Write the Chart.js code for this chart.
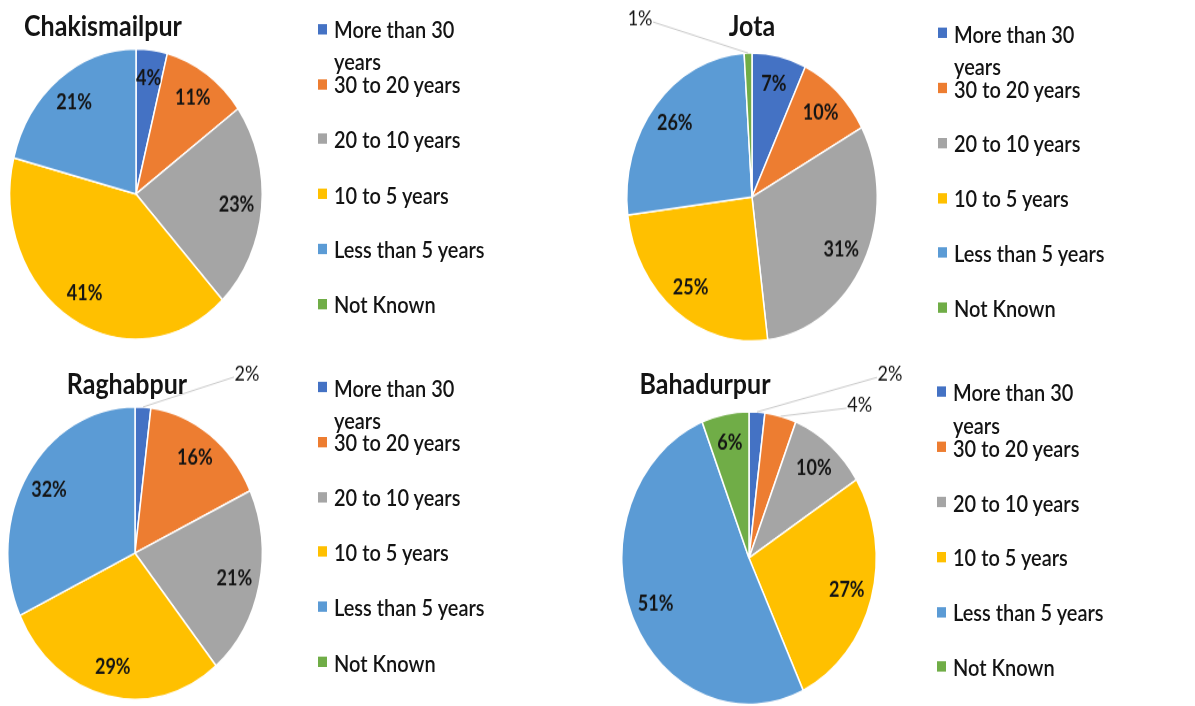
<!DOCTYPE html>
<html>
<head>
<meta charset="utf-8">
<script src="https://cdn.jsdelivr.net/npm/chart.js@4.4.1/dist/chart.umd.min.js"></script>
<style>
  html, body { margin: 0; padding: 0; background: #fff; }
  #frame { position: relative; width: 1195px; height: 706px; overflow: hidden; }
  #page {
    position: absolute; left: 0; top: 0; width: 1195px; height: 614px;
    transform: scaleY(1.15); transform-origin: 0 0;
    font-family: Lato, "Open Sans", sans-serif; color: #141414;
  }
  canvas { position: absolute; }
  .title { position: absolute; font-weight: bold; font-size: 25px; line-height: 30px; transform: translate(-50%, -50%); white-space: nowrap; }
  .row { position: absolute; font-size: 20px; font-weight: 600; line-height: 28px; }
  .row .box { position: absolute; left: 0; top: 9.5px; width: 9px; height: 9px; }
  .row .txt { position: absolute; left: 16px; top: 0; width: 170px; }
</style>
</head>
<body>
<div id="frame"><div id="page"></div></div>
<script>
"use strict";

// categories (legend order, clockwise from 12 o'clock)
const categories = ['More than 30 years', '30 to 20 years', '20 to 10 years', '10 to 5 years', 'Less than 5 years', 'Not Known'];
const colors = ['#4472C4', '#ED7D31', '#A5A5A5', '#FFC000', '#5B9BD5', '#70AD47'];

// percentages per village
const chakismailpur = [4, 11, 23, 41, 21, 0];
const jota = [7, 10, 31, 25, 26, 1];
const raghabpur = [2, 16, 21, 29, 32, 0];
const bahadurpur = [2, 4, 10, 27, 51, 6];

// layout for each panel (unscaled px; page is stretched 1.15 vertically)
const panels = [
  { name: 'Chakismailpur', data: chakismailpur, left: 0, top: 0, w: 300, h: 307, cx: 136, cy: 168.7, r: 127,
    title: [103, 21], legend: [318, 25.2], outside: {} },
  { name: 'Jota', data: jota, left: 600, top: 0, w: 320, h: 307, cx: 152, cy: 171.3, r: 126,
    title: [752, 20.5], legend: [938, 28.7], outside: { 5: [-108, -30] } },
  { name: 'Raghabpur', data: raghabpur, left: 0, top: 300, w: 300, h: 314, cx: 135, cy: 180.9, r: 128,
    title: [127, 333], legend: [318, 336.5], outside: { 0: [104, -29] } },
  { name: 'Bahadurpur', data: bahadurpur, left: 600, top: 300, w: 320, h: 314, cx: 149, cy: 185.2, r: 128,
    title: [705, 333], legend: [937, 340.9], outside: { 0: [133, -33], 1: [79, -10] } }
];

// percentage labels: bold inside, plain with leader line outside
const pctLabels = {
  id: 'pctLabels',
  afterDatasetsDraw(chart, args, opts) {
    const ctx = chart.ctx;
    const vals = chart.data.datasets[0].data;
    chart.getDatasetMeta(0).data.forEach((arc, i) => {
      const v = vals[i];
      if (!v) return;
      const p = arc.getProps(['x', 'y', 'startAngle', 'endAngle', 'outerRadius'], true);
      const mid = (p.startAngle + p.endAngle) / 2;
      const out = opts.outside[i];
      ctx.save();
      ctx.fillStyle = '#141414';
      ctx.textAlign = 'center';
      ctx.textBaseline = 'middle';
      if (out) {
        const ex = p.x + Math.cos(mid) * p.outerRadius;
        const ey = p.y + Math.sin(mid) * p.outerRadius;
        const lx = ex + out[0], ly = ey + out[1];
        ctx.strokeStyle = '#c8c8c8';
        ctx.lineWidth = 1;
        ctx.beginPath();
        ctx.moveTo(ex, ey);
        ctx.lineTo(lx - Math.sign(out[0]) * 13, ly + 3);
        ctx.stroke();
        ctx.font = '18px Lato';
        ctx.fillText(v + '%', lx, ly);
      } else {
        const rr = p.outerRadius * 0.8;
        ctx.font = 'bold 18px Lato';
        ctx.fillText(v + '%', p.x + Math.cos(mid) * rr, p.y + Math.sin(mid) * rr);
      }
      ctx.restore();
    });
  }
};

const page = document.getElementById('page');

panels.forEach(pn => {
  const cv = document.createElement('canvas');
  cv.width = pn.w; cv.height = pn.h;
  cv.style.left = pn.left + 'px'; cv.style.top = pn.top + 'px';
  cv.style.width = pn.w + 'px'; cv.style.height = pn.h + 'px';
  page.appendChild(cv);

  new Chart(cv, {
    type: 'pie',
    data: {
      labels: categories,
      datasets: [{ data: pn.data, backgroundColor: colors, borderColor: '#fff', borderWidth: 1.5 }]
    },
    options: {
      responsive: false,
      animation: false,
      layout: {
        padding: { left: pn.cx - pn.r, right: pn.w - pn.cx - pn.r, top: pn.cy - pn.r, bottom: pn.h - pn.cy - pn.r }
      },
      plugins: {
        legend: { display: false },
        tooltip: { enabled: false },
        pctLabels: { outside: pn.outside }
      }
    },
    plugins: [pctLabels]
  });

  const t = document.createElement('div');
  t.className = 'title';
  t.textContent = pn.name;
  t.style.left = pn.title[0] + 'px'; t.style.top = pn.title[1] + 'px';
  page.appendChild(t);

  categories.forEach((c, i) => {
    const row = document.createElement('div');
    row.className = 'row';
    row.style.left = pn.legend[0] + 'px';
    row.style.top = (pn.legend[1] + i * 47.8 - 14) + 'px';
    const box = document.createElement('span');
    box.className = 'box';
    box.style.background = colors[i];
    const txt = document.createElement('span');
    txt.className = 'txt';
    txt.textContent = c;
    row.appendChild(box); row.appendChild(txt);
    page.appendChild(row);
  });
});
</script>
</body>
</html>
